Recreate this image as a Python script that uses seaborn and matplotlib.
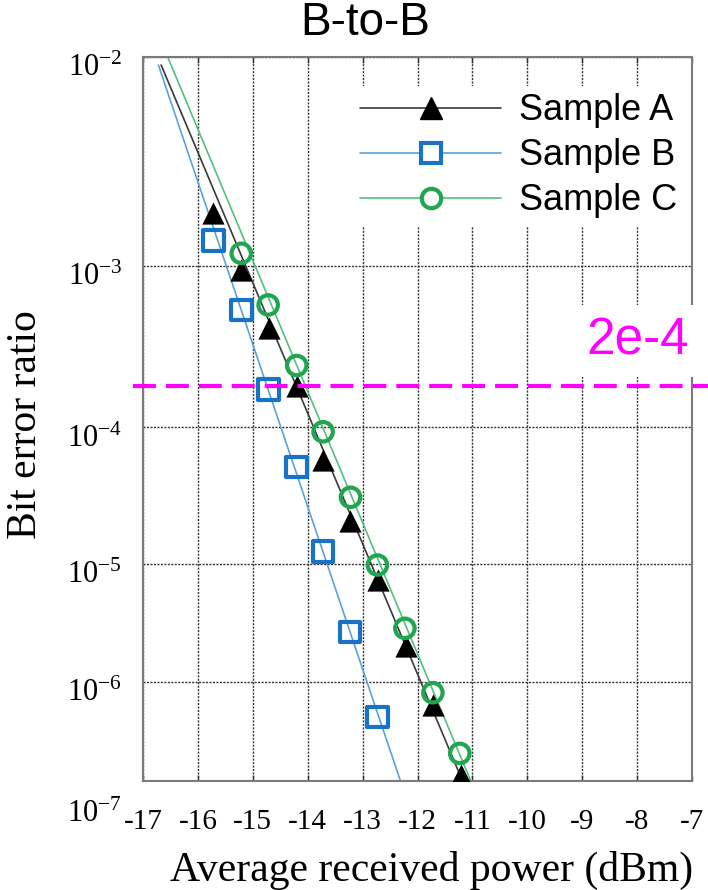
import numpy as np
import matplotlib
matplotlib.use("Agg")
import matplotlib.pyplot as plt
from matplotlib.lines import Line2D
from matplotlib.transforms import ScaledTranslation
import seaborn as sns

# measured points (received power in dBm, BER)
power_a = [-15.72, -15.21, -14.70, -14.20, -13.72, -13.23, -12.72, -12.21, -11.72, -11.21]
ber_a = [1.79e-3, 9.45e-4, 4.13e-4, 1.81e-4, 5.78e-5, 2.07e-5, 7.31e-6, 2.02e-6, 5.86e-7, 1.15e-7]

power_b = [-15.72, -15.21, -14.72, -14.21, -13.72, -13.23, -12.73]
ber_b = [1.32e-3, 5.34e-4, 1.71e-4, 5.14e-5, 1.24e-5, 2.65e-6, 4.43e-7]

power_c = [-15.21, -14.72, -14.20, -13.72, -13.22, -12.73, -12.23, -11.72, -11.23]
ber_c = [1.15e-3, 5.74e-4, 2.42e-4, 9.31e-5, 3.08e-5, 9.8e-6, 2.85e-6, 7.8e-7, 1.9e-7]

# fitted lines (end points)
fit_a_x = [-16.67, -11.18]
fit_a_y = [9.16e-3, 1e-7]
fit_b_x = [-16.72, -12.31]
fit_b_y = [9.16e-3, 1e-7]
fit_c_x = [-16.55, -11.03]
fit_c_y = [1e-2, 1e-7]

threshold = 1.8e-4
threshold_label = "2e-4"

x_ticks = list(range(-17, -6))
y_ticks = [1e-7, 1e-6, 1e-5, 1e-4, 1e-3, 1e-2]
y_tick_labels = [r"$\mathregular{10^{-%d}}$" % k for k in range(7, 1, -1)]

# BER axis is not a plain log axis: decades get wider towards high BER
dec_log = [-12, -7, -6, -5, -4, -3, -2, 3]
dec_pos = [-495, 0, 99, 217, 353.5, 515, 724, 1769]


def ber_fwd(v):
    v = np.asarray(v, dtype=float)
    lg = np.log10(np.where(v > 0, v, 1e-12))
    return np.interp(lg, dec_log, dec_pos)


def ber_inv(p):
    p = np.asarray(p, dtype=float)
    return 10 ** np.interp(p, dec_pos, dec_log)


sns.set_theme(style="white")
plt.rcParams["font.family"] = ["Liberation Serif", "DejaVu Serif"]
plt.rcParams["mathtext.fontset"] = "custom"
plt.rcParams["mathtext.rm"] = "Liberation Serif"
plt.rcParams["axes.unicode_minus"] = False
plt.rcParams["text.color"] = "black"
plt.rcParams["axes.labelcolor"] = "black"
plt.rcParams["xtick.color"] = "black"
plt.rcParams["ytick.color"] = "black"

blk, blk_line = "#000000", "#3a3a3a"
blue, blue_line = "#1a72c6", "#5ba2dc"
green, green_line = "#1fa64f", "#52c07e"

fig = plt.figure(figsize=(7.08, 8.90), dpi=100)
ax = fig.add_axes([143 / 708, 1 - 781 / 890, 549 / 708, 724 / 890])
ax.set_yscale("function", functions=(ber_fwd, ber_inv))

sns.lineplot(x=fit_a_x, y=fit_a_y, color=blk_line, lw=1.2, ax=ax, zorder=2)
sns.lineplot(x=fit_b_x, y=fit_b_y, color=blue_line, lw=1.2, ax=ax, zorder=2)
sns.lineplot(x=fit_c_x, y=fit_c_y, color=green_line, lw=1.2, ax=ax, zorder=2)

sns.scatterplot(x=power_a, y=ber_a, marker="^", s=16 ** 2, color=blk,
                edgecolor=blk, linewidth=0, ax=ax, zorder=3)
sns.scatterplot(x=power_b, y=ber_b, marker="s", s=15 ** 2, color=blue,
                facecolor="none", edgecolor=blue, linewidth=3, ax=ax, zorder=3)
sns.scatterplot(x=power_c, y=ber_c, marker="o", s=14 ** 2, color=green,
                facecolor="none", edgecolor=green, linewidth=3, ax=ax, zorder=3)

ax.set_xlim(-17, -7)
ax.set_ylim(1e-7, 1e-2)
ax.set_xticks(x_ticks)
ax.set_xticklabels([str(t) for t in x_ticks])
ax.set_yticks(y_ticks)
ax.set_yticklabels(y_tick_labels)
ax.yaxis.set_minor_locator(matplotlib.ticker.NullLocator())
ax.tick_params(axis="x", direction="in", length=4, width=1, color="#333",
               labelsize=21, pad=20, top=True, bottom=True)
ax.tick_params(axis="y", direction="in", length=0, labelsize=22, pad=15)
ax.grid(True, ls=(0, (1.5, 1)), lw=1.0, color="#333333")
ax.set_axisbelow(True)
for sp in ax.spines.values():
    sp.set_color("#7a7a7a")
    sp.set_linewidth(1.5)

# y tick labels sit a little below their gridlines, the lowest one much lower
for i, lab in enumerate(ax.get_yticklabels()):
    dy = -0.30 if i == 0 else -0.08
    lab.set_transform(lab.get_transform() + ScaledTranslation(0, dy, fig.dpi_scale_trans))

ax.set_xlabel("Average received power (dBm)", fontsize=30)
ax.set_ylabel("Bit error ratio", fontsize=30)
ax.xaxis.set_label_coords(0.525, -0.097)
ax.yaxis.set_label_coords(-0.178, 0.493)

handles = [
    Line2D([], [], color=blk_line, lw=1.2, marker="^", ms=16, mfc=blk, mec=blk),
    Line2D([], [], color=blue_line, lw=1.2, marker="s", ms=15, mfc="white", mec=blue, mew=3),
    Line2D([], [], color=green_line, lw=1.2, marker="o", ms=14, mfc="white", mec=green, mew=3),
]
leg = ax.legend(handles, ["Sample A", "Sample B", "Sample C"], loc="upper left",
                bbox_to_anchor=(0.3825, 0.96), borderaxespad=0, borderpad=0.2,
                handlelength=3.9, handletextpad=0.5, labelspacing=0.28,
                frameon=True, framealpha=1, facecolor="white", edgecolor="none",
                labelcolor="black", prop={"family": "Liberation Sans", "size": 26})
leg.get_frame().set_boxstyle("square", pad=0)

ax.axhline(threshold, xmin=-0.018, xmax=1.03, color="#ff00ff", lw=3,
           ls=(0, (5.5, 2.4)), clip_on=False, zorder=6)
fig.text(638 / 708, 1 - 341 / 890, threshold_label, ha="center", va="center",
         color="#ff00ff", fontsize=37, family="Liberation Sans",
         bbox=dict(facecolor="white", edgecolor="none", pad=8))

fig.text(365 / 708, 1 - 23 / 890, "B-to-B", ha="center", va="center",
         fontsize=33, family="Liberation Sans", color="black")

fig.savefig("out.png", dpi=100)
